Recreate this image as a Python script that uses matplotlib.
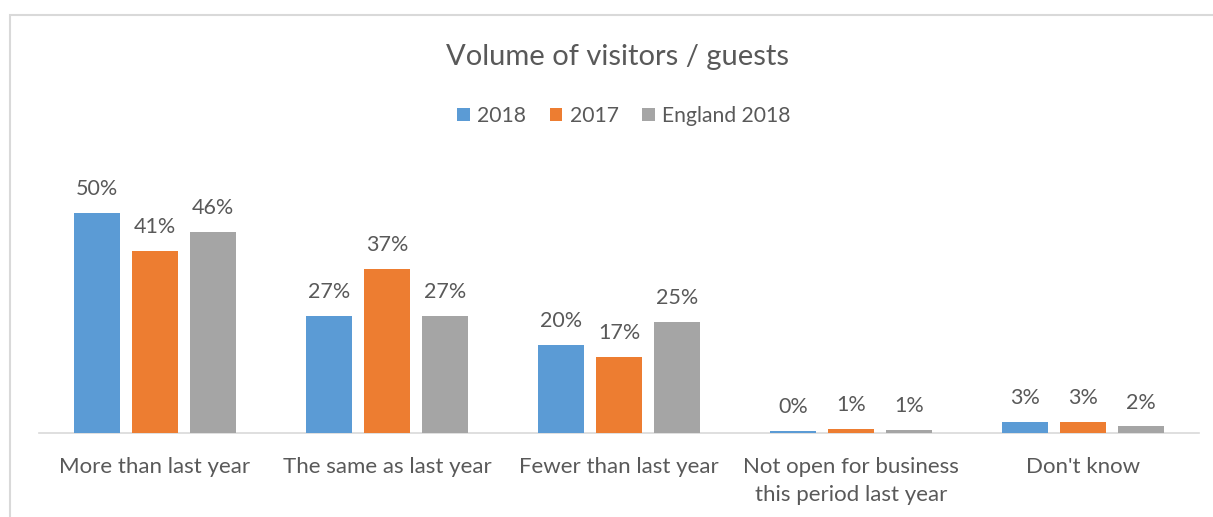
import math
import matplotlib
matplotlib.use("Agg")
import matplotlib.pyplot as plt
from matplotlib.patches import Rectangle, Patch
import numpy as np

categories = ["More than last year", "The same as last year", "Fewer than last year",
              "Not open for business\nthis period last year", "Don't know"]
series_names = ["2018", "2017", "England 2018"]
values_2018 = [50.0, 26.6, 20.0, 0.4, 2.6]
values_2017 = [41.4, 37.3, 17.3, 0.9, 2.55]
values_england = [45.7, 26.6, 25.2, 0.6, 1.5]
title = "Volume of visitors / guests"

colors = ["#5B9BD5", "#ED7D31", "#A5A5A5"]
text_color = "#595959"

plt.rcParams['font.family'] = ['Lato', 'DejaVu Sans']

W, H = 1213, 517
fig = plt.figure(figsize=(W / 100, H / 100), dpi=100)

# chart frame
fig.patches.append(Rectangle((10 / W, -0.1), 1.2, 1 - 14.5 / H + 0.1, transform=fig.transFigure,
                             fill=False, edgecolor="#D9D9D9", linewidth=1.5))

ax_left, ax_right = 39 / W, 1199 / W
ax_bottom = (H - 433) / H
ymax = 60
ax_h = ymax * 4.4 / H
ax = fig.add_axes([ax_left, ax_bottom, ax_right - ax_left, ax_h])

x = np.arange(len(categories))
width = 46 / 232
offsets = [-58 / 232, 0, 58 / 232]
all_vals = [values_2018, values_2017, values_england]
for vals, off, col, name in zip(all_vals, offsets, colors, series_names):
    bars = ax.bar(x + off, vals, width=width, color=col, label=name, zorder=3)
    for b, v in zip(bars, vals):
        ax.annotate(f"{math.floor(v + 0.5)}%", (b.get_x() + b.get_width() / 2, b.get_height()),
                    xytext=(0, 10), textcoords="offset points", ha="center", va="bottom",
                    fontsize=15.5, color=text_color)

ax.set_xlim(-0.5, len(categories) - 0.5)
ax.set_ylim(0, ymax)
for s in ["top", "right", "left"]:
    ax.spines[s].set_visible(False)
ax.spines["bottom"].set_color("#D9D9D9")
ax.spines["bottom"].set_linewidth(1.2)
ax.set_yticks([])
ax.set_xticks(x)
ax.set_xticklabels(categories, fontsize=16, color=text_color, linespacing=1.45)
ax.tick_params(axis="x", length=0, pad=17.5)

fig.text(618 / W, 1 - 57 / H, title, ha="center", va="center", fontsize=21, color=text_color)

handles = [Patch(facecolor=c, edgecolor="none") for c in colors]
leg = fig.legend(handles, series_names, loc="center", bbox_to_anchor=(624 / W, 1 - 116 / H),
                 ncol=3, frameon=False, fontsize=15.2, handlelength=0.6, handleheight=0.6,
                 handletextpad=0.35, columnspacing=1.1, labelcolor=text_color)

fig.savefig("out.png", dpi=100)
